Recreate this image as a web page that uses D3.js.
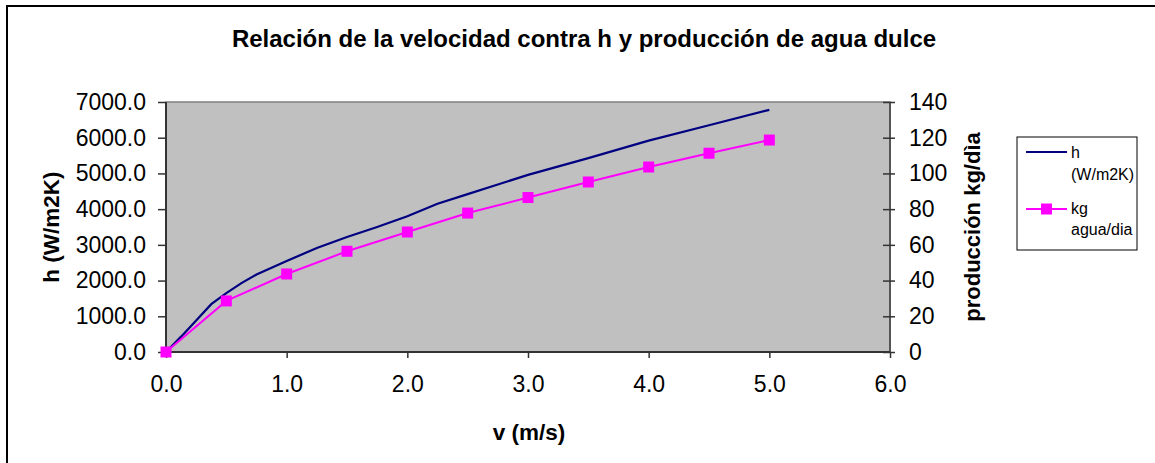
<!DOCTYPE html>
<html><head><meta charset="utf-8">
<script src="https://cdn.jsdelivr.net/npm/d3@7"></script>
<style>
body{margin:0;background:#fff;}
text{font-family:"Liberation Sans",Arial,sans-serif;fill:#000;}
</style></head>
<body><svg id="c" width="1155" height="463"></svg>
<script>
const hV = [0, 0.125, 0.25, 0.375, 0.5, 0.625, 0.75, 1.0, 1.25, 1.5, 1.75, 2.0, 2.25, 2.5, 2.75, 3.0, 3.5, 4.0, 4.5, 5.0];
const hVals = [0, 430, 880, 1340, 1650, 1930, 2170, 2550, 2910, 3220, 3500, 3800, 4150, 4420, 4690, 4960, 5430, 5920, 6350, 6780];
const kgV = [0, 0.5, 1.0, 1.5, 2.0, 2.5, 3.0, 3.5, 4.0, 4.5, 5.0];
const kgVals = [0, 28.6, 43.7, 56.4, 67.2, 77.8, 86.5, 95.2, 103.6, 111.3, 118.7];
const xTicks = [0, 1, 2, 3, 4, 5, 6];
const yLeftTicks = [0, 1000, 2000, 3000, 4000, 5000, 6000, 7000];
const yRightTicks = [0, 20, 40, 60, 80, 100, 120, 140];
const title = "Relación de la velocidad contra h y producción de agua dulce";
const xTitle = "v (m/s)";
const yLeftTitle = "h (W/m2K)";
const yRightTitle = "producción kg/dìa";
const legendNames = [["h", "(W/m2K)"], ["kg", "agua/dia"]];

const svg = d3.select("#c");
const L = 166, R = 890, T = 102, B = 352;
const x = d3.scaleLinear().domain([0, 6]).range([L, R]);
const yL = d3.scaleLinear().domain([0, 7000]).range([B, T]);
const yR = d3.scaleLinear().domain([0, 140]).range([B, T]);

// outer border
svg.append("path").attr("d", "M7,463V6H1155").attr("fill", "none").attr("stroke", "#000").attr("stroke-width", 2);

// plot area
svg.append("rect").attr("x", L).attr("y", T).attr("width", R - L).attr("height", B - T)
  .attr("fill", "#C0C0C0").attr("stroke", "#808080").attr("stroke-width", 1.5);

// axes
const fs = "23px";
const axL = svg.append("g").attr("transform", `translate(${L},0)`)
  .call(d3.axisLeft(yL).tickValues(yLeftTicks).tickFormat(d3.format(".1f")).tickSize(8).tickPadding(12));
const axR = svg.append("g").attr("transform", `translate(${R},0)`)
  .call(d3.axisRight(yR).tickValues(yRightTicks).tickFormat(d3.format("d")).tickSize(5).tickPadding(14));
axR.selectAll(".tick line").attr("x1", -7);
const axB = svg.append("g").attr("transform", `translate(0,${B})`)
  .call(d3.axisBottom(x).tickValues(xTicks).tickFormat(d3.format(".1f")).tickSize(6).tickPadding(18));
[axL, axR, axB].forEach(a => {
  a.selectAll("text").style("font-size", fs).attr("fill", "#000");
  a.selectAll("line").attr("stroke", "#333").attr("stroke-width", 1.5);
  a.select(".domain").attr("stroke", "#333").attr("stroke-width", 2);
});
axB.select(".domain").attr("d", `M${L},0H${R}`);
axL.select(".domain").attr("d", `M0,${B - T + 0}`).attr("d", `M0,${T}V${B}`);
axR.select(".domain").attr("d", `M0,${T}V${B}`).attr("stroke", "#555");

// lines
const lineH = d3.line().x((d, i) => x(hV[i])).y(d => yL(d));
svg.append("path").datum(hVals).attr("d", lineH).attr("fill", "none").attr("stroke", "#000080").attr("stroke-width", 2.2);
const lineK = d3.line().x((d, i) => x(kgV[i])).y(d => yR(d));
svg.append("path").datum(kgVals).attr("d", lineK).attr("fill", "none").attr("stroke", "#FF00FF").attr("stroke-width", 2);
const ms = 11;
svg.append("g").selectAll("rect").data(kgVals).join("rect")
  .attr("x", (d, i) => x(kgV[i]) - ms / 2).attr("y", d => yR(d) - ms / 2)
  .attr("width", ms).attr("height", ms).attr("fill", "#FF00FF");

// titles
svg.append("text").attr("x", 584).attr("y", 47).attr("text-anchor", "middle")
  .style("font-size", "24px").style("font-weight", "bold").text(title);
svg.append("text").attr("x", 529).attr("y", 440).attr("text-anchor", "middle")
  .style("font-size", "22.5px").style("font-weight", "bold").text(xTitle);
svg.append("text").attr("transform", `translate(59,${(T + B) / 2}) rotate(-90)`).attr("text-anchor", "middle")
  .style("font-size", "22.5px").style("font-weight", "bold").text(yLeftTitle);
svg.append("text").attr("transform", `translate(980,${(T + B) / 2}) rotate(-90)`).attr("text-anchor", "middle")
  .style("font-size", "22px").style("font-weight", "bold").text(yRightTitle);

// legend
const lg = svg.append("g");
lg.append("rect").attr("x", 1017).attr("y", 137).attr("width", 120).attr("height", 113)
  .attr("fill", "#fff").attr("stroke", "#000").attr("stroke-width", 1);
lg.append("line").attr("x1", 1026).attr("x2", 1067).attr("y1", 152).attr("y2", 152)
  .attr("stroke", "#000080").attr("stroke-width", 2);
lg.append("line").attr("x1", 1026).attr("x2", 1067).attr("y1", 209).attr("y2", 209)
  .attr("stroke", "#FF00FF").attr("stroke-width", 2);
lg.append("rect").attr("x", 1046.5 - ms / 2).attr("y", 209 - ms / 2).attr("width", ms).attr("height", ms).attr("fill", "#FF00FF");
const lt = [[158, legendNames[0][0]], [180, legendNames[0][1]], [214, legendNames[1][0]], [235, legendNames[1][1]]];
lt.forEach(([yy, t]) => lg.append("text").attr("x", 1071).attr("y", yy).style("font-size", "16px").text(t));
</script></body></html>
